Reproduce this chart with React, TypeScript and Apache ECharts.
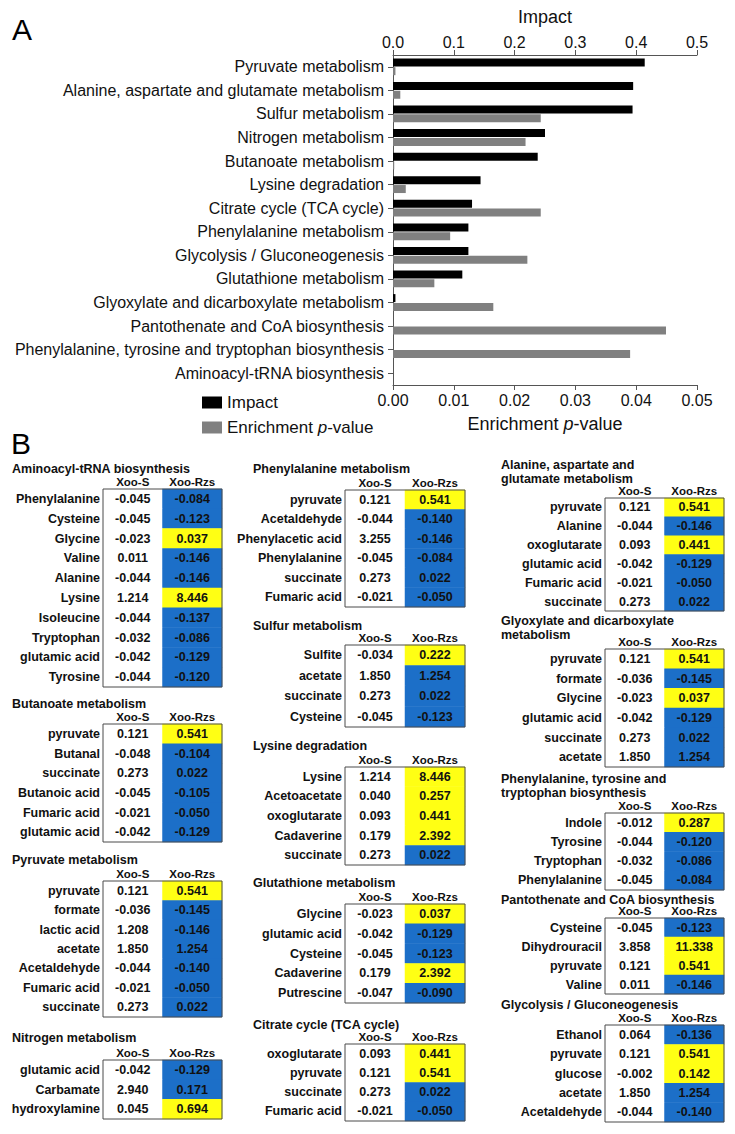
import React, { useEffect, useRef } from 'react';
import * as echarts from 'echarts';

// ---------- Part A data ----------
const pathways = [
  'Pyruvate metabolism',
  'Alanine, aspartate and glutamate metabolism',
  'Sulfur metabolism',
  'Nitrogen metabolism',
  'Butanoate metabolism',
  'Lysine degradation',
  'Citrate cycle (TCA cycle)',
  'Phenylalanine metabolism',
  'Glycolysis / Gluconeogenesis',
  'Glutathione metabolism',
  'Glyoxylate and dicarboxylate metabolism',
  'Pantothenate and CoA biosynthesis',
  'Phenylalanine, tyrosine and tryptophan biosynthesis',
  'Aminoacyl-tRNA biosynthesis',
];
const impact = [0.414, 0.395, 0.394, 0.25, 0.238, 0.144, 0.13, 0.124, 0.124, 0.114, 0.004, 0, 0, 0];
const enrichmentP = [0.0004, 0.0012, 0.0243, 0.0218, 0.0002, 0.0021, 0.0243, 0.0094, 0.0221, 0.0068, 0.0165, 0.0449, 0.039, 0];

// ---------- Part B data ----------
const columns = ['Xoo-S', 'Xoo-Rzs'];

const aminoacylRows = ['Phenylalanine', 'Cysteine', 'Glycine', 'Valine', 'Alanine', 'Lysine', 'Isoleucine', 'Tryptophan', 'glutamic acid', 'Tyrosine'];
const aminoacylS = [-0.045, -0.045, -0.023, 0.011, -0.044, 1.214, -0.044, -0.032, -0.042, -0.044];
const aminoacylRzs = [-0.084, -0.123, 0.037, -0.146, -0.146, 8.446, -0.137, -0.086, -0.129, -0.12];

const butanoateRows = ['pyruvate', 'Butanal', 'succinate', 'Butanoic acid', 'Fumaric acid', 'glutamic acid'];
const butanoateS = [0.121, -0.048, 0.273, -0.045, -0.021, -0.042];
const butanoateRzs = [0.541, -0.104, 0.022, -0.105, -0.05, -0.129];

const pyruvateRows = ['pyruvate', 'formate', 'lactic acid', 'acetate', 'Acetaldehyde', 'Fumaric acid', 'succinate'];
const pyruvateS = [0.121, -0.036, 1.208, 1.85, -0.044, -0.021, 0.273];
const pyruvateRzs = [0.541, -0.145, -0.146, 1.254, -0.14, -0.05, 0.022];

const nitrogenRows = ['glutamic acid', 'Carbamate', 'hydroxylamine'];
const nitrogenS = [-0.042, 2.94, 0.045];
const nitrogenRzs = [-0.129, 0.171, 0.694];

const phenylalanineRows = ['pyruvate', 'Acetaldehyde', 'Phenylacetic acid', 'Phenylalanine', 'succinate', 'Fumaric acid'];
const phenylalanineS = [0.121, -0.044, 3.255, -0.045, 0.273, -0.021];
const phenylalanineRzs = [0.541, -0.14, -0.146, -0.084, 0.022, -0.05];

const sulfurRows = ['Sulfite', 'acetate', 'succinate', 'Cysteine'];
const sulfurS = [-0.034, 1.85, 0.273, -0.045];
const sulfurRzs = [0.222, 1.254, 0.022, -0.123];

const lysineRows = ['Lysine', 'Acetoacetate', 'oxoglutarate', 'Cadaverine', 'succinate'];
const lysineS = [1.214, 0.04, 0.093, 0.179, 0.273];
const lysineRzs = [8.446, 0.257, 0.441, 2.392, 0.022];

const glutathioneRows = ['Glycine', 'glutamic acid', 'Cysteine', 'Cadaverine', 'Putrescine'];
const glutathioneS = [-0.023, -0.042, -0.045, 0.179, -0.047];
const glutathioneRzs = [0.037, -0.129, -0.123, 2.392, -0.09];

const citrateRows = ['oxoglutarate', 'pyruvate', 'succinate', 'Fumaric acid'];
const citrateS = [0.093, 0.121, 0.273, -0.021];
const citrateRzs = [0.441, 0.541, 0.022, -0.05];

const alanineRows = ['pyruvate', 'Alanine', 'oxoglutarate', 'glutamic acid', 'Fumaric acid', 'succinate'];
const alanineS = [0.121, -0.044, 0.093, -0.042, -0.021, 0.273];
const alanineRzs = [0.541, -0.146, 0.441, -0.129, -0.05, 0.022];

const glyoxylateRows = ['pyruvate', 'formate', 'Glycine', 'glutamic acid', 'succinate', 'acetate'];
const glyoxylateS = [0.121, -0.036, -0.023, -0.042, 0.273, 1.85];
const glyoxylateRzs = [0.541, -0.145, 0.037, -0.129, 0.022, 1.254];

const pheTyrTrpRows = ['Indole', 'Tyrosine', 'Tryptophan', 'Phenylalanine'];
const pheTyrTrpS = [-0.012, -0.044, -0.032, -0.045];
const pheTyrTrpRzs = [0.287, -0.12, -0.086, -0.084];

const pantothenateRows = ['Cysteine', 'Dihydrouracil', 'pyruvate', 'Valine'];
const pantothenateS = [-0.045, 3.858, 0.121, 0.011];
const pantothenateRzs = [-0.123, 11.338, 0.541, -0.146];

const glycolysisRows = ['Ethanol', 'pyruvate', 'glucose', 'acetate', 'Acetaldehyde'];
const glycolysisS = [0.064, 0.121, -0.002, 1.85, -0.044];
const glycolysisRzs = [-0.136, 0.541, 0.142, 1.254, -0.14];

const tables = [
  { title: 'Aminoacyl-tRNA biosynthesis', rows: aminoacylRows, s: aminoacylS, rzs: aminoacylRzs },
  { title: 'Butanoate metabolism', rows: butanoateRows, s: butanoateS, rzs: butanoateRzs },
  { title: 'Pyruvate metabolism', rows: pyruvateRows, s: pyruvateS, rzs: pyruvateRzs },
  { title: 'Nitrogen metabolism', rows: nitrogenRows, s: nitrogenS, rzs: nitrogenRzs },
  { title: 'Phenylalanine metabolism', rows: phenylalanineRows, s: phenylalanineS, rzs: phenylalanineRzs },
  { title: 'Sulfur metabolism', rows: sulfurRows, s: sulfurS, rzs: sulfurRzs },
  { title: 'Lysine degradation', rows: lysineRows, s: lysineS, rzs: lysineRzs },
  { title: 'Glutathione metabolism', rows: glutathioneRows, s: glutathioneS, rzs: glutathioneRzs },
  { title: 'Citrate cycle (TCA cycle)', rows: citrateRows, s: citrateS, rzs: citrateRzs },
  { title: 'Alanine, aspartate and\nglutamate metabolism', rows: alanineRows, s: alanineS, rzs: alanineRzs },
  { title: 'Glyoxylate and dicarboxylate\nmetabolism', rows: glyoxylateRows, s: glyoxylateS, rzs: glyoxylateRzs },
  { title: 'Phenylalanine, tyrosine and\ntryptophan biosynthesis', rows: pheTyrTrpRows, s: pheTyrTrpS, rzs: pheTyrTrpRzs },
  { title: 'Pantothenate and CoA biosynthesis', rows: pantothenateRows, s: pantothenateS, rzs: pantothenateRzs },
  { title: 'Glycolysis / Gluconeogenesis', rows: glycolysisRows, s: glycolysisS, rzs: glycolysisRzs },
];

// ---------- layout (pixels) ----------
const tableLayouts = [
  { left: 103, width: 119, titleX: 12, titleY: 469, top: 489, bottom: 687 },
  { left: 103, width: 119, titleX: 12, titleY: 704, top: 724, bottom: 842 },
  { left: 103, width: 119, titleX: 12, titleY: 860, top: 881, bottom: 1017 },
  { left: 103, width: 119, titleX: 12, titleY: 1038, top: 1060, bottom: 1119 },
  { left: 345, width: 120, titleX: 253, titleY: 469, top: 490, bottom: 607 },
  { left: 345, width: 120, titleX: 253, titleY: 626, top: 645, bottom: 727 },
  { left: 345, width: 120, titleX: 253, titleY: 746, top: 767, bottom: 865 },
  { left: 345, width: 120, titleX: 253, titleY: 883, top: 904, bottom: 1003 },
  { left: 345, width: 120, titleX: 253, titleY: 1024.5, top: 1044, bottom: 1121 },
  { left: 605, width: 119, titleX: 501, titleY: 472, top: 498, bottom: 611 },
  { left: 605, width: 119, titleX: 501, titleY: 628, top: 649, bottom: 767 },
  { left: 605, width: 119, titleX: 501, titleY: 786, top: 813, bottom: 890 },
  { left: 605, width: 119, titleX: 501, titleY: 899.5, top: 918, bottom: 994 },
  { left: 605, width: 119, titleX: 501, titleY: 1005, top: 1025, bottom: 1122 },
];

const FONT = 'Liberation Sans, Arial, sans-serif';
const YELLOW = '#FFFF14';
const BLUE = '#1C6FC8';

function buildOption() {
  const grid: any[] = [{ left: 393, top: 55, width: 304, height: 330 }];
  const xAxis: any[] = [
    {
      type: 'value', gridIndex: 0, position: 'top', min: 0, max: 0.5, interval: 0.1,
      name: 'Impact', nameLocation: 'middle', nameGap: 29,
      nameTextStyle: { fontSize: 18, color: '#111', fontFamily: FONT },
      axisLine: { show: true, lineStyle: { color: '#555' } },
      axisTick: { show: true, length: 5, lineStyle: { color: '#555' } },
      splitLine: { show: false },
      axisLabel: { fontSize: 16, color: '#111', margin: 5, fontFamily: FONT, formatter: (v: number) => v.toFixed(1) },
    },
    {
      type: 'value', gridIndex: 0, position: 'bottom', min: 0, max: 0.05, interval: 0.01,
      name: '{a|Enrichment }{b|p}{a|-value}', nameLocation: 'middle', nameGap: 30,
      nameTextStyle: {
        rich: {
          a: { fontSize: 18, color: '#111', fontFamily: FONT },
          b: { fontSize: 18, color: '#111', fontFamily: FONT, fontStyle: 'italic' },
        },
      },
      axisLine: { show: true, lineStyle: { color: '#555' } },
      axisTick: { show: true, length: 5, lineStyle: { color: '#555' } },
      splitLine: { show: false },
      axisLabel: { fontSize: 16, color: '#111', margin: 7, fontFamily: FONT, formatter: (v: number) => v.toFixed(2) },
    },
  ];
  const yAxis: any[] = [
    {
      type: 'category', gridIndex: 0, data: pathways, inverse: true,
      axisLine: { show: true, lineStyle: { color: '#555' } },
      axisTick: { show: true, alignWithLabel: true, length: 5, lineStyle: { color: '#555' } },
      axisLabel: { fontSize: 16, color: '#111', margin: 9, fontFamily: FONT, interval: 0 },
    },
  ];
  const series: any[] = [
    {
      name: 'Impact', type: 'bar', xAxisIndex: 0, yAxisIndex: 0, data: impact,
      barWidth: 8, barGap: '10%', itemStyle: { color: '#000' },
    },
    {
      name: 'Enrichment p-value', type: 'bar', xAxisIndex: 1, yAxisIndex: 0, data: enrichmentP,
      barWidth: 8, barGap: '10%', itemStyle: { color: '#808080' },
    },
  ];
  const graphic: any[] = [
    { type: 'text', x: 12, y: 29, style: { text: 'A', fontSize: 30, fontFamily: FONT, fill: '#000', verticalAlign: 'middle' } },
    { type: 'text', x: 11, y: 443, style: { text: 'B', fontSize: 30, fontFamily: FONT, fill: '#000', verticalAlign: 'middle' } },
  ];
  const heatmapSeriesIdx: number[] = [];

  tables.forEach((t, i) => {
    const L = tableLayouts[i];
    const gi = i + 1;
    grid.push({
      left: L.left, top: L.top, width: L.width, height: L.bottom - L.top,
      show: true, borderColor: '#4a4a4a', borderWidth: 1, backgroundColor: 'transparent', z: 10,
    });
    xAxis.push({
      type: 'category', gridIndex: gi, data: columns, position: 'top',
      axisLine: { show: false }, axisTick: { show: false }, splitLine: { show: false },
      axisLabel: { interval: 0, margin: 1, fontSize: 11.5, fontWeight: 'bold', color: '#111', fontFamily: FONT },
    });
    yAxis.push({
      type: 'category', gridIndex: gi, data: t.rows, inverse: true,
      axisLine: { show: false }, axisTick: { show: false }, splitLine: { show: false },
      axisLabel: { interval: 0, margin: 3, fontSize: 12.5, fontWeight: 'bold', color: '#111', fontFamily: FONT },
    });
    // 4th dimension: 0 = Xoo-S cell, 1 = Xoo-Rzs higher than Xoo-S, 2 = Xoo-Rzs lower
    const data: any[] = [];
    t.rows.forEach((_, r) => {
      data.push([0, r, t.s[r], 0]);
      data.push([1, r, t.rzs[r], t.rzs[r] > t.s[r] ? 1 : 2]);
    });
    heatmapSeriesIdx.push(series.length);
    series.push({
      type: 'heatmap', xAxisIndex: gi + 1, yAxisIndex: gi, data,
      label: {
        show: true, fontSize: 12.5, fontWeight: 'bold', color: '#111', fontFamily: FONT,
        formatter: (p: any) => Number(p.value[2]).toFixed(3),
      },
      emphasis: { disabled: true },
      itemStyle: { borderWidth: 0 },
    });
    graphic.push({
      type: 'text', x: L.titleX, y: L.titleY,
      style: {
        text: t.title, fontSize: 12.5, fontWeight: 'bold', fontFamily: FONT, fill: '#111',
        verticalAlign: 'middle', lineHeight: 14,
      },
    });
  });

  return {
    animation: false,
    backgroundColor: '#ffffff',
    grid, xAxis, yAxis, series, graphic,
    visualMap: {
      type: 'piecewise', show: false, dimension: 3, seriesIndex: heatmapSeriesIdx,
      pieces: [
        { value: 0, color: '#ffffff' },
        { value: 1, color: YELLOW },
        { value: 2, color: BLUE },
      ],
    },
    legend: {
      show: true, orient: 'vertical', left: 197, top: 389,
      itemWidth: 20, itemHeight: 12, itemGap: 8, icon: 'rect',
      data: ['Impact', 'Enrichment p-value'],
      formatter: (name: string) => (name === 'Impact' ? '{a|Impact}' : '{a|Enrichment }{b|p}{a|-value}'),
      textStyle: {
        rich: {
          a: { fontSize: 17, color: '#111', fontFamily: FONT },
          b: { fontSize: 17, color: '#111', fontFamily: FONT, fontStyle: 'italic' },
        },
      },
    },
  };
}

export default function App() {
  const ref = useRef<HTMLDivElement>(null);
  useEffect(() => {
    if (!ref.current) return;
    const chart = echarts.init(ref.current, undefined, { renderer: 'svg' });
    chart.setOption(buildOption() as any);
    return () => chart.dispose();
  }, []);
  return <div ref={ref} style={{ position: 'fixed', left: 0, top: 0, width: 735, height: 1134 }} />;
}
